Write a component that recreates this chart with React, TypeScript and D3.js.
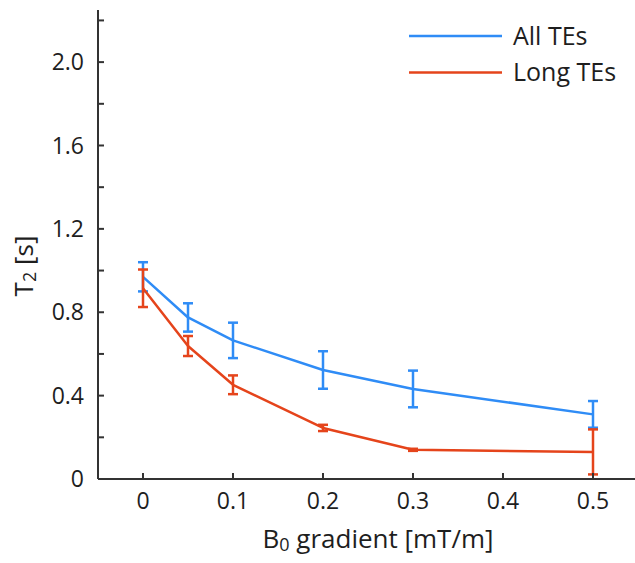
import React from "react";
import * as d3 from "d3";

// B0 gradient levels [mT/m]
const gradients = [0, 0.05, 0.1, 0.2, 0.3, 0.5];
// T2 estimates [s] and their error half-widths
const allTEsMean = [0.97, 0.775, 0.665, 0.523, 0.432, 0.31];
const allTEsErr = [0.07, 0.068, 0.085, 0.09, 0.088, 0.064];
const longTEsMean = [0.915, 0.638, 0.452, 0.245, 0.14, 0.13];
const longTEsErr = [0.09, 0.048, 0.045, 0.015, 0.005, 0.108];

const xTicks = [0, 0.1, 0.2, 0.3, 0.4, 0.5];
const yMajorTicks = [0, 0.4, 0.8, 1.2, 1.6, 2.0];
const yMinorTicks = [0.2, 0.6, 1.0, 1.4, 1.8, 2.2];

const W = 635;
const H = 563;
const FONT = "'Open Sans', 'Noto Sans', sans-serif";
const BLUE = "#2f8cf6";
const RED = "#e5441b";
const AXIS = "#333333";
const TEXT = "#1e1e1e";

export default function App() {
  const x = d3.scaleLinear().domain([-0.05, 0.55]).range([98, 638]);
  const y = d3.scaleLinear().domain([0, 2.25]).range([479, 10]);

  const series = [
    { name: "All TEs", color: BLUE, mean: allTEsMean, err: allTEsErr },
    { name: "Long TEs", color: RED, mean: longTEsMean, err: longTEsErr },
  ];

  const line = d3
    .line<[number, number]>()
    .x((d) => x(d[0]))
    .y((d) => y(d[1]));

  const fmt = (v: number) => (v === 0 ? "0" : d3.format(".1f")(v));
  const tickLen = 6;
  const cap = 5;

  return (
    <div style={{ position: "fixed", left: 0, top: 0 }}>
      <svg width={W} height={H} style={{ display: "block", background: "#fff" }}>
        {/* series */}
        {series.map((s) => (
          <g key={s.name}>
            <path
              d={line(gradients.map((g, i) => [g, s.mean[i]]))!}
              fill="none"
              stroke={s.color}
              strokeWidth={2.5}
              strokeLinejoin="round"
            />
            {gradients.map((g, i) => {
              const cx = x(g);
              const y1 = y(s.mean[i] + s.err[i]);
              const y0 = y(s.mean[i] - s.err[i]);
              return (
                <g key={i} stroke={s.color} strokeWidth={2.5}>
                  <line x1={cx} x2={cx} y1={y1} y2={y0} />
                  <line x1={cx - cap} x2={cx + cap} y1={y1} y2={y1} />
                  <line x1={cx - cap} x2={cx + cap} y1={y0} y2={y0} />
                </g>
              );
            })}
          </g>
        ))}

        {/* axes */}
        <g stroke={AXIS} strokeWidth={2}>
          <line x1={x(-0.05)} x2={x(-0.05)} y1={y(2.25)} y2={y(0)} />
          <line x1={x(-0.05)} x2={W} y1={y(0)} y2={y(0)} />
          {[...yMajorTicks, ...yMinorTicks].map((t) => (
            <line key={"yt" + t} x1={x(-0.05)} x2={x(-0.05) + tickLen} y1={y(t)} y2={y(t)} />
          ))}
          {xTicks.map((t) => (
            <line key={"xt" + t} x1={x(t)} x2={x(t)} y1={y(0)} y2={y(0) - tickLen} />
          ))}
        </g>

        {/* tick labels */}
        <g fontFamily={FONT} fontSize={23} fill={TEXT}>
          {yMajorTicks.map((t) => (
            <text key={"yl" + t} x={84} y={y(t)} dy="0.35em" textAnchor="end">
              {fmt(t)}
            </text>
          ))}
          {xTicks.map((t) => (
            <text key={"xl" + t} x={x(t)} y={509} textAnchor="middle">
              {fmt(t)}
            </text>
          ))}
        </g>

        {/* axis titles */}
        <text x={378} y={548} fontFamily={FONT} fontSize={26} fill={TEXT} textAnchor="middle">
          B<tspan fontSize={18} dy={3}>0</tspan>
          <tspan dy={-3}> gradient [mT/m]</tspan>
        </text>
        <text
          transform="translate(33,266) rotate(-90)"
          fontFamily={FONT}
          fontSize={26}
          fill={TEXT}
          textAnchor="middle"
        >
          T<tspan fontSize={18} dy={3}>2</tspan>
          <tspan dy={-3}> [s]</tspan>
        </text>

        {/* legend */}
        {series.map((s, i) => {
          const ly = 36 + i * 36.5;
          return (
            <g key={"lg" + s.name}>
              <line x1={409} x2={502} y1={ly} y2={ly} stroke={s.color} strokeWidth={2.5} />
              <text x={513} y={ly} dy="0.35em" fontFamily={FONT} fontSize={25} fill={TEXT}>
                {s.name}
              </text>
            </g>
          );
        })}
      </svg>
    </div>
  );
}
